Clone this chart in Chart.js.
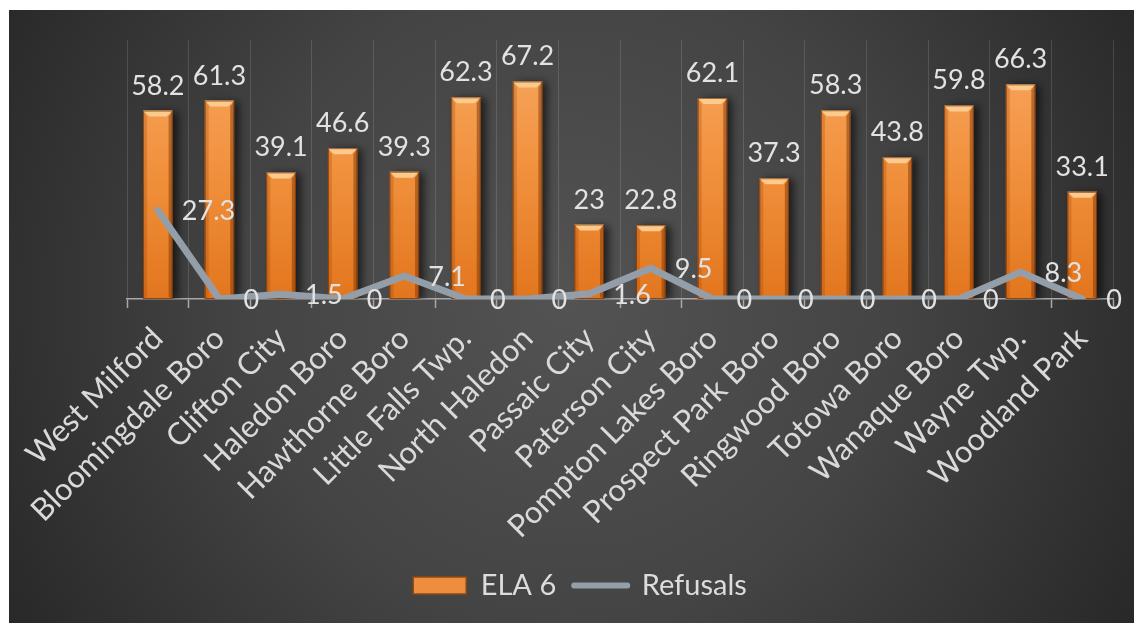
<!DOCTYPE html>
<html>
<head>
<meta charset="utf-8">
<script src="https://cdn.jsdelivr.net/npm/chart.js@4.4.0/dist/chart.umd.min.js"></script>
<style>
  html, body { margin: 0; padding: 0; background: #fff; }
  #wrap { width: 1134px; height: 623px; }
</style>
</head>
<body>
<div id="wrap"><canvas id="chart" width="1134" height="623"></canvas></div>
<script>
// --- Data ---
const categories = ['West Milford', 'Bloomingdale Boro', 'Clifton City', 'Haledon Boro', 'Hawthorne Boro',
    'Little Falls Twp.', 'North Haledon', 'Passaic City', 'Paterson City', 'Pompton Lakes Boro',
    'Prospect Park Boro', 'Ringwood Boro', 'Totowa Boro', 'Wanaque Boro', 'Wayne Twp.', 'Woodland Park'];
const ela6 = [58.2, 61.3, 39.1, 46.6, 39.3, 62.3, 67.2, 23, 22.8, 62.1, 37.3, 58.3, 43.8, 59.8, 66.3, 33.1];
const refusals = [27.3, 0, 1.5, 0, 7.1, 0, 0, 1.6, 9.5, 0, 0, 0, 0, 0, 8.3, 0];
const yMin = 0;
const yMax = 80;

const FONT = 'Lato';
const TEXT_COLOR = '#e2e2e2';
const LINE_COLOR = '#949ea8';
const PAD_BOTTOM = 13;
const PAD_LEFT = 47;
const AXIS_Y = 299;
const PLOT_LEFT = 127;

// dark backdrop with white frame on top/left
const backdrop = {
    id: 'backdrop',
    beforeDraw(chart) {
        const { ctx, width, height } = chart;
        ctx.save();
        ctx.fillStyle = '#ffffff';
        ctx.fillRect(0, 0, width, height);
        const g = ctx.createRadialGradient(570, 300, 0, 570, 300, 720);
        g.addColorStop(0, '#535353');
        g.addColorStop(0.45, '#444444');
        g.addColorStop(1, '#222222');
        ctx.fillStyle = g;
        ctx.fillRect(9, 10, width - 9, height - 10);
        ctx.restore();
    }
};

// bar shadow + bevel
const bevel = {
    id: 'bevel',
    beforeDatasetDraw(chart, args) {
        if (args.meta.type !== 'bar') return;
        const ctx = chart.ctx;
        ctx.save();
        ctx.shadowColor = 'rgba(0,0,0,0.6)';
        ctx.shadowBlur = 8;
        ctx.shadowOffsetX = 5;
        ctx.shadowOffsetY = 1;
    },
    afterDatasetDraw(chart, args) {
        if (args.meta.type !== 'bar') return;
        const ctx = chart.ctx;
        ctx.restore();
        ctx.save();
        args.meta.data.forEach((bar) => {
            const half = bar.width / 2;
            const l = bar.x - half, r = bar.x + half, t = bar.y, b = bar.base;
            const e = 6;
            // top highlight
            ctx.fillStyle = '#fcca8c';
            ctx.beginPath();
            ctx.moveTo(l, t); ctx.lineTo(r, t); ctx.lineTo(r - e, t + e); ctx.lineTo(l + e, t + e);
            ctx.closePath(); ctx.fill();
            // right edge
            ctx.fillStyle = 'rgba(110,45,0,0.45)';
            ctx.beginPath();
            ctx.moveTo(r, t); ctx.lineTo(r, b); ctx.lineTo(r - 4, b - 2); ctx.lineTo(r - 4, t + e);
            ctx.closePath(); ctx.fill();
            // left edge
            ctx.fillStyle = 'rgba(150,60,0,0.25)';
            ctx.beginPath();
            ctx.moveTo(l, t); ctx.lineTo(l + 4, t + e); ctx.lineTo(l + 4, b - 2); ctx.lineTo(l, b);
            ctx.closePath(); ctx.fill();
            // thin outline
            ctx.strokeStyle = 'rgba(90,35,0,0.6)';
            ctx.lineWidth = 1;
            ctx.strokeRect(l + 0.5, t + 0.5, bar.width - 1, b - t - 1);
        });
        ctx.restore();
    }
};

// value labels
const valueLabels = {
    id: 'valueLabels',
    afterDatasetsDraw(chart) {
        const ctx = chart.ctx;
        ctx.save();
        ctx.font = '27px ' + FONT;
        ctx.fillStyle = TEXT_COLOR;
        chart.data.datasets.forEach((ds, di) => {
            const meta = chart.getDatasetMeta(di);
            meta.data.forEach((el, i) => {
                const txt = String(ds.data[i]);
                if (meta.type === 'bar') {
                    ctx.textAlign = 'center';
                    ctx.textBaseline = 'alphabetic';
                    ctx.fillText(txt, el.x, el.y - 16);
                } else {
                    ctx.textAlign = 'left';
                    ctx.textBaseline = 'middle';
                    ctx.fillText(txt, el.x + 24, el.y + 1);
                }
            });
        });
        ctx.restore();
    }
};

const ctx = document.getElementById('chart').getContext('2d');

function barFill(context) {
    const area = context.chart.chartArea;
    if (!area) return '#ee8a3a';
    const g = context.chart.ctx.createLinearGradient(0, area.top, 0, area.bottom);
    g.addColorStop(0, '#f8a862');
    g.addColorStop(0.5, '#f1913d');
    g.addColorStop(1, '#e2761e');
    return g;
}

new Chart(ctx, {
    type: 'bar',
    data: {
        labels: categories,
        datasets: [
            {
                type: 'line',
                label: 'Refusals',
                data: refusals,
                borderColor: LINE_COLOR,
                borderWidth: 7,
                pointRadius: 0,
                tension: 0,
                borderJoinStyle: 'round',
                borderCapStyle: 'round',
                order: 0
            },
            {
                type: 'bar',
                label: 'ELA 6',
                data: ela6,
                backgroundColor: barFill,
                borderWidth: 0,
                barPercentage: 0.6,
                categoryPercentage: 0.8,
                order: 1
            }
        ]
    },
    options: {
        responsive: false,
        animation: false,
        layout: { padding: { left: PAD_LEFT, right: 21, top: 40, bottom: PAD_BOTTOM } },
        scales: {
            x: {
                offset: true,
                grid: {
                    display: true,
                    offset: true,
                    color: 'rgba(255,255,255,0.13)',
                    lineWidth: 1,
                    tickLength: 9,
                    tickColor: '#a8a8a8',
                    tickWidth: 1.5
                },
                border: { display: true, color: '#a8a8a8', width: 1.5 },
                ticks: {
                    color: '#d9d9d9',
                    font: { family: FONT, size: 31 },
                    minRotation: 45,
                    maxRotation: 45,
                    autoSkip: false,
                    padding: 12
                },
                afterFit(scale) {
                    const ch = scale.chart;
                    const lg = ch.legend ? ch.legend.height : 60;
                    scale.height = ch.height - PAD_BOTTOM - lg - AXIS_Y;
                }
            },
            y: {
                display: true,
                min: yMin,
                max: yMax,
                ticks: { display: false },
                grid: { display: false },
                border: { display: false },
                afterFit(scale) { scale.width = PLOT_LEFT - PAD_LEFT; }
            }
        },
        plugins: {
            tooltip: { enabled: false },
            legend: {
                position: 'bottom',
                labels: {
                    color: '#dcdcdc',
                    font: { family: FONT, size: 29 },
                    usePointStyle: true,
                    pointStyleWidth: 53,
                    boxHeight: 17,
                    padding: 18,
                    generateLabels() {
                        return [
                            { text: 'ELA 6', fillStyle: '#ef8d3c', strokeStyle: '#8a4a14', lineWidth: 1.5,
                              pointStyle: 'rect', datasetIndex: 1, fontColor: '#dcdcdc' },
                            { text: 'Refusals', fillStyle: LINE_COLOR, strokeStyle: LINE_COLOR, lineWidth: 6,
                              lineCap: 'round', pointStyle: 'line', datasetIndex: 0, fontColor: '#dcdcdc' }
                        ];
                    }
                }
            }
        }
    },
    plugins: [backdrop, bevel, valueLabels]
});
</script>
</body>
</html>
